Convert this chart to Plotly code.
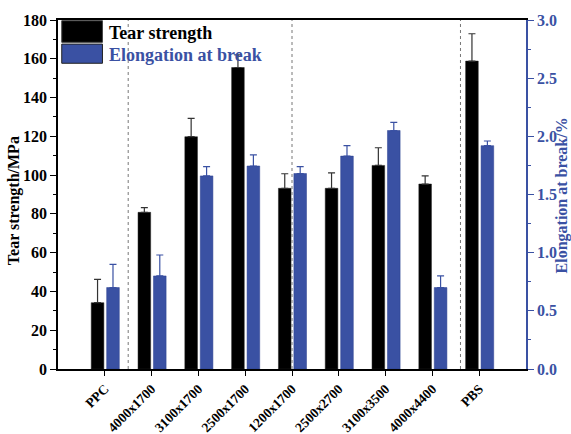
import plotly.graph_objects as go

categories = ["PPC", "4000x1700", "3100x1700", "2500x1700", "1200x1700",
              "2500x2700", "3100x3500", "4000x4400", "PBS"]
tear_strength = [34.2, 80.8, 119.8, 155.5, 93.2, 93.2, 105.0, 95.4, 158.8]
tear_err = [12.0, 2.4, 9.5, 6.5, 7.5, 8.0, 9.1, 4.2, 14.1]
elongation = [0.70, 0.80, 1.66, 1.745, 1.68, 1.83, 2.05, 0.70, 1.92]
elong_err = [0.20, 0.18, 0.08, 0.095, 0.06, 0.09, 0.07, 0.10, 0.04]
separators = [0.5, 4.0, 7.6]

BLUE = "#3a51a3"
FONT = "Liberation Serif"
xpos = list(range(len(categories)))

fig = go.Figure()
fig.add_trace(go.Bar(
    x=xpos, y=tear_strength, name="Tear strength",
    marker=dict(color="black", line=dict(color="#222", width=0.5)),
    width=0.27, offset=-0.29,
    error_y=dict(type="data", array=tear_err, symmetric=False, arrayminus=[0]*9,
                 color="#333", thickness=1.2, width=3.5),
    yaxis="y",
))
fig.add_trace(go.Bar(
    x=xpos, y=elongation, name="Elongation at break",
    marker=dict(color=BLUE, line=dict(color="#2a3f8f", width=0.5)),
    width=0.27, offset=0.04,
    error_y=dict(type="data", array=elong_err, symmetric=False, arrayminus=[0]*9,
                 color=BLUE, thickness=1.2, width=3.5),
    yaxis="y2",
))

for s in separators:
    fig.add_shape(type="line", x0=s, x1=s, xref="x", y0=0, y1=1, yref="paper",
                  line=dict(color="#777", width=1, dash="dot"))

# legend (manual)
fig.add_shape(type="rect", xref="paper", yref="paper", x0=0.008, x1=0.095,
              y0=0.936, y1=0.998, fillcolor="black", line=dict(color="#444", width=1))
fig.add_shape(type="rect", xref="paper", yref="paper", x0=0.008, x1=0.095,
              y0=0.876, y1=0.931, fillcolor=BLUE, line=dict(color="#222", width=1))
fig.add_annotation(xref="paper", yref="paper", x=0.104, y=0.963, xanchor="left",
                   yanchor="middle", showarrow=False, text="<b>Tear strength</b>",
                   font=dict(family=FONT, size=18, color="black"))
fig.add_annotation(xref="paper", yref="paper", x=0.104, y=0.900, xanchor="left",
                   yanchor="middle", showarrow=False, text="<b>Elongation at break</b>",
                   font=dict(family=FONT, size=18, color=BLUE))

# axis titles
fig.add_annotation(xref="paper", yref="paper", x=-0.094, y=0.481, xanchor="center",
                   yanchor="middle", showarrow=False, textangle=-90,
                   text="<b>Tear strength/MPa</b>",
                   font=dict(family=FONT, size=16, color="black"))
fig.add_annotation(xref="paper", yref="paper", x=1.076, y=0.496, xanchor="center",
                   yanchor="middle", showarrow=False, textangle=-90,
                   text="<b>Elongation at break/%</b>",
                   font=dict(family=FONT, size=16, color=BLUE))

fig.update_layout(
    width=571, height=434,
    margin=dict(l=58, r=45, t=20, b=65, autoexpand=False),
    plot_bgcolor="white", paper_bgcolor="white",
    showlegend=False,
    font=dict(family=FONT, color="black"),
    xaxis=dict(
        range=[-1, 9], tickvals=xpos, ticktext=["<b>%s</b>" % c for c in categories],
        tickangle=-45,
        tickfont=dict(family=FONT, size=13.5), automargin=False,
        showline=True, linecolor="black", linewidth=1.5, mirror=True,
        ticks="outside", ticklen=5, tickcolor="black", showgrid=False, zeroline=False,
    ),
    yaxis=dict(
        range=[0, 180], dtick=20, showgrid=False, zeroline=False, automargin=False,
        showline=True, linecolor="black", linewidth=1.5,
        ticks="outside", ticklen=6, tickcolor="black",
        minor=dict(dtick=10, ticks="outside", ticklen=3, tickcolor="black"),
        tickfont=dict(family=FONT, size=16, weight="bold"),
    ),
    yaxis2=dict(
        range=[0, 3], dtick=0.5, tickformat=".1f", overlaying="y", side="right",
        showgrid=False, zeroline=False, automargin=False,
        showline=True, linecolor=BLUE, linewidth=1.5,
        ticks="outside", ticklen=6, tickcolor=BLUE,
        minor=dict(dtick=0.25, ticks="outside", ticklen=3, tickcolor=BLUE),
        tickfont=dict(family=FONT, size=16, color=BLUE, weight="bold"),
    ),
)

fig.write_html("out.html", config={"displayModeBar": False},
               post_script="document.body.style.margin='0';")
